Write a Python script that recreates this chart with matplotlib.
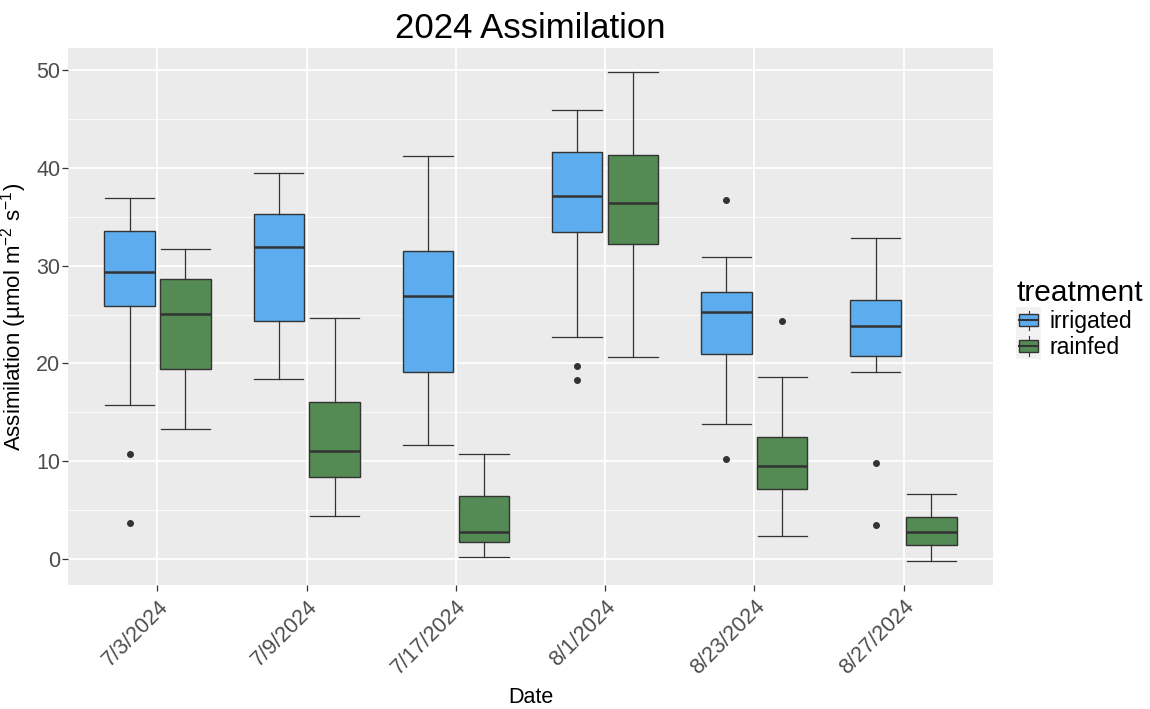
import numpy as np
import matplotlib
matplotlib.use("Agg")
import matplotlib.pyplot as plt
from matplotlib.legend_handler import HandlerBase
from matplotlib.patches import Rectangle
from matplotlib.lines import Line2D

plt.rcParams['font.family'] = ['Liberation Sans', 'DejaVu Sans']
plt.rcParams['mathtext.fontset'] = 'custom'
plt.rcParams['mathtext.rm'] = 'Liberation Sans'
plt.rcParams['mathtext.it'] = 'Liberation Sans:italic'

# box stats
dates = ['7/3/2024', '7/9/2024', '7/17/2024', '8/1/2024', '8/23/2024', '8/27/2024']
treatments = ['irrigated', 'rainfed']
colors = {'irrigated': '#5CACEE', 'rainfed': '#548B54'}

irr_lo = [15.7, 18.4, 11.6, 22.7, 13.8, 19.1]
irr_q1 = [25.9, 24.3, 19.1, 33.5, 21.0, 20.8]
irr_med = [29.4, 31.9, 26.9, 37.1, 25.3, 23.8]
irr_q3 = [33.6, 35.3, 31.5, 41.6, 27.3, 26.5]
irr_hi = [36.9, 39.5, 41.2, 46.0, 30.9, 32.8]
irr_out = [[10.7, 3.7], [], [], [19.7, 18.3], [36.7, 10.2], [9.8, 3.4]]

rain_lo = [13.3, 4.4, 0.15, 20.7, 2.3, -0.2]
rain_q1 = [19.4, 8.4, 1.7, 32.2, 7.1, 1.4]
rain_med = [25.1, 11.0, 2.7, 36.4, 9.5, 2.7]
rain_q3 = [28.6, 16.0, 6.4, 41.3, 12.5, 4.3]
rain_hi = [31.7, 24.6, 10.7, 49.8, 18.6, 6.6]
rain_out = [[], [], [], [], [24.3], []]

series = {
    'irrigated': (irr_lo, irr_q1, irr_med, irr_q3, irr_hi, irr_out),
    'rainfed': (rain_lo, rain_q1, rain_med, rain_q3, rain_hi, rain_out),
}

EDGE = '#333333'
fig = plt.figure(figsize=(11.5, 7.09), dpi=100)
ax = fig.add_axes([0.0591, 0.1749, 0.8044, 0.7574])
ax.set_facecolor('#EBEBEB')
for s in ax.spines.values():
    s.set_visible(False)

x = np.arange(1, len(dates) + 1)
off = {'irrigated': -0.1875, 'rainfed': 0.1875}
bw = 0.3375

for t in treatments:
    lo, q1, med, q3, hi, out = series[t]
    stats = []
    for i in range(len(dates)):
        stats.append(dict(whislo=lo[i], q1=q1[i], med=med[i], q3=q3[i],
                          whishi=hi[i], fliers=out[i]))
    ax.bxp(stats, positions=x + off[t], widths=bw, capwidths=bw * 0.98,
           patch_artist=True, manage_ticks=False,
           boxprops=dict(facecolor=colors[t], edgecolor=EDGE, linewidth=1.0),
           whiskerprops=dict(color=EDGE, linewidth=0.9),
           capprops=dict(color=EDGE, linewidth=0.9),
           medianprops=dict(color=EDGE, linewidth=1.8),
           flierprops=dict(marker='o', markerfacecolor=EDGE, markeredgecolor=EDGE,
                           markersize=4, linestyle='none'),
           zorder=3)

ax.set_xlim(0.4, 6.6)
ax.set_ylim(-2.7, 52.3)
ax.set_yticks([0, 10, 20, 30, 40, 50])
ax.set_yticks([5, 15, 25, 35, 45], minor=True)
ax.set_xticks(x)
ax.set_xticklabels(dates, rotation=45, ha='right', va='top', rotation_mode='anchor')
ax.grid(True, which='major', color='white', linewidth=1.3, zorder=0)
ax.grid(True, which='minor', axis='y', color='white', linewidth=0.6, zorder=0)
ax.set_axisbelow(True)
ax.tick_params(axis='both', which='major', length=4, color=EDGE, labelcolor='#4D4D4D',
               labelsize=15.5, width=0.9)
ax.tick_params(axis='both', which='minor', length=0)
ax.tick_params(axis='x', pad=4)
ax.tick_params(axis='y', pad=1.5)

ax.set_xlabel('Date', fontsize=15.5, labelpad=6)
ax.set_ylabel(r'Assimilation (µmol m$^{-2}$ s$^{-1}$)', fontsize=16, labelpad=5)
ax.set_title('2024 Assimilation', fontsize=25, pad=7)


class BoxHandler(HandlerBase):
    def create_artists(self, legend, orig_handle, xdescent, ydescent, width, height,
                       fontsize, trans):
        x0, y0 = -xdescent, -ydescent
        bg = Rectangle((x0, y0 - 2), width, height + 4,
                       facecolor='#F2F2F2', edgecolor='none', transform=trans)
        cx = x0 + width / 2
        b = Rectangle((x0 + width * 0.12, y0 + height * 0.22),
                      width * 0.76, height * 0.56, facecolor=orig_handle.get_facecolor(),
                      edgecolor=EDGE, linewidth=1.0, transform=trans)
        m = Line2D([x0 + width * 0.12, x0 + width * 0.88],
                   [y0 + height / 2] * 2, color=EDGE, linewidth=1.5, transform=trans)
        w1 = Line2D([cx, cx], [y0 + height * 0.05, y0 + height * 0.22], color=EDGE,
                    linewidth=0.8, transform=trans)
        w2 = Line2D([cx, cx], [y0 + height * 0.78, y0 + height * 0.95], color=EDGE,
                    linewidth=0.8, transform=trans)
        return [bg, w1, w2, b, m]


handles = [Rectangle((0, 0), 1, 1, facecolor=colors[t]) for t in treatments]
leg = fig.legend(handles, treatments, title='treatment', loc='center left',
                 bbox_to_anchor=(0.8835, 0.55), frameon=False, fontsize=16.5,
                 title_fontsize=21.5, handler_map={Rectangle: BoxHandler()},
                 handlelength=1.1, handleheight=1.05, handletextpad=0.35,
                 labelspacing=0.1, borderaxespad=0, borderpad=0)
leg._legend_box.align = 'left'

fig.savefig('out.png', dpi=100)
